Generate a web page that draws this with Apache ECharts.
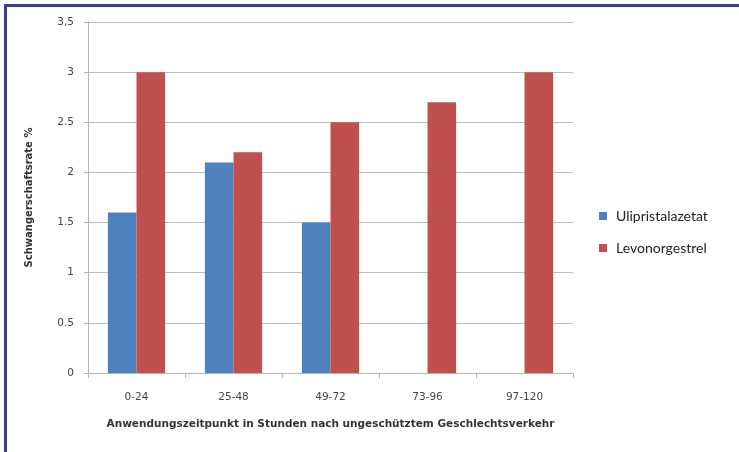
<!DOCTYPE html>
<html>
<head>
<meta charset="utf-8">
<script src="https://cdn.jsdelivr.net/npm/echarts@6/dist/echarts.min.js"></script>
<style>
  html, body { margin: 0; padding: 0; background: #fff; }
  #frame { position: absolute; left: 0; top: 0; width: 739px; height: 452px; }
  #frame:before { content: ""; position: absolute; left: 4px; top: 4px; right: 0; height: 3px; background: #3a3d9c; }
  #frame:after { content: ""; position: absolute; left: 4px; top: 4px; bottom: 0; width: 3px; background: #3a3d9c; }
  #chart { position: absolute; left: 0; top: 0; width: 739px; height: 452px; }
</style>
</head>
<body>
<div id="frame"></div>
<div id="chart"></div>
<script>
// Zeitfenster nach ungeschütztem Geschlechtsverkehr (Stunden)
const categories = ['0-24', '25-48', '49-72', '73-96', '97-120'];
// Schwangerschaftsrate in %
const ulipristal = [1.6, 2.1, 1.5, null, null];
const levonorgestrel = [3.0, 2.2, 2.5, 2.7, 3.0];
// Beschriftung der y-Achse
const yTickLabels = { 0: '0', 0.5: '0.5', 1: '1', 1.5: '1.5', 2: '2', 2.5: '2.5', 3: '3', 3.5: '3,5' };

const chart = echarts.init(document.getElementById('chart'), null, { renderer: 'canvas' });
const labelFont = { fontFamily: 'DejaVu Sans', fontSize: 10.5, color: '#444' };

chart.setOption({
  animation: false,
  backgroundColor: 'transparent',
  grid: { left: 88, right: 166, top: 22, bottom: 79 },
  legend: {
    orient: 'vertical',
    left: 594, top: 204,
    itemWidth: 8, itemHeight: 8, itemGap: 18,
    icon: 'rect',
    textStyle: { fontFamily: 'Lato', fontSize: 14, color: '#222', padding: [0, 0, 0, 4] },
    data: ['Ulipristalazetat', 'Levonorgestrel']
  },
  xAxis: {
    type: 'category',
    data: categories,
    name: 'Anwendungszeitpunkt in Stunden nach ungeschütztem Geschlechtsverkehr',
    nameLocation: 'middle',
    nameGap: 46,
    nameTextStyle: { fontFamily: 'DejaVu Sans', fontSize: 10.5, fontWeight: 'bold', color: '#333' },
    axisLine: { lineStyle: { color: '#b5b5b5' } },
    axisTick: { show: true, length: 5, lineStyle: { color: '#b5b5b5' } },
    axisLabel: Object.assign({ margin: 19 }, labelFont)
  },
  yAxis: {
    type: 'value',
    min: 0, max: 3.5, interval: 0.5,
    name: 'Schwangerschaftsrate %',
    nameLocation: 'middle',
    nameGap: 54,
    nameTextStyle: { fontFamily: 'DejaVu Sans', fontSize: 10, fontWeight: 'bold', color: '#333' },
    axisLine: { show: true, lineStyle: { color: '#b5b5b5' } },
    axisTick: { show: true, length: 4, lineStyle: { color: '#b5b5b5' } },
    splitLine: { lineStyle: { color: '#bdbdbd' } },
    axisLabel: Object.assign({
      margin: 14,
      formatter: v => yTickLabels[v] !== undefined ? yTickLabels[v] : String(v)
    }, labelFont)
  },
  series: [
    {
      name: 'Ulipristalazetat', type: 'bar', data: ulipristal,
      barGap: '0%', barCategoryGap: '41%',
      itemStyle: { color: '#4f81bd' }
    },
    {
      name: 'Levonorgestrel', type: 'bar', data: levonorgestrel,
      barGap: '0%', barCategoryGap: '41%',
      itemStyle: { color: '#c0504d' }
    }
  ]
});
</script>
</body>
</html>
